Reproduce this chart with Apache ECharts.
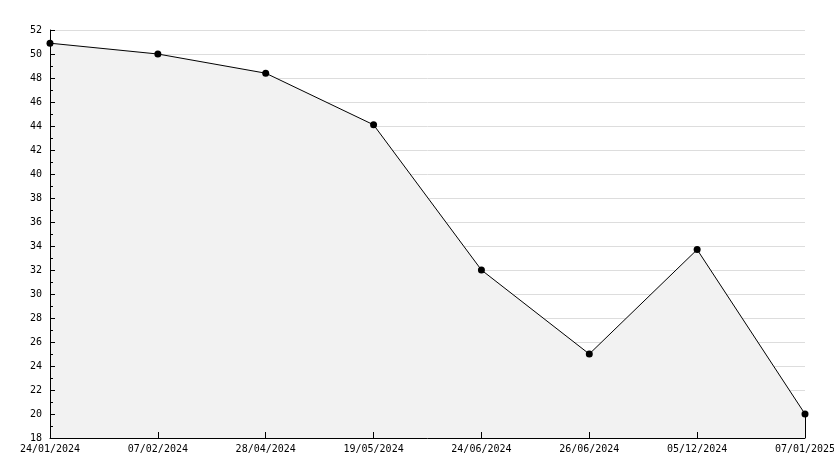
<!DOCTYPE html>
<html>
<head>
<meta charset="utf-8">
<script src="https://cdn.jsdelivr.net/npm/echarts@6/dist/echarts.min.js"></script>
<style>html,body{margin:0;padding:0;background:#fff;}#c{width:834px;height:468px;}</style>
</head>
<body>
<div id="c"></div>
<script>
const categories = ['24/01/2024','07/02/2024','28/04/2024','19/05/2024','24/06/2024','26/06/2024','05/12/2024','07/01/2025'];
const values = [50.9, 50.0, 48.4, 44.1, 32.0, 25.0, 33.7, 20.0];
const yMin = 18, yMax = 52, yStep = 2;

const chart = echarts.init(document.getElementById('c'), null, {renderer:'canvas'});
const font = 'DejaVu Sans Mono';
chart.setOption({
  animation: false,
  grid: {left: 50, right: 29, top: 30, bottom: 30, containLabel: false, outerBoundsMode: 'none'},
  xAxis: {
    type: 'category',
    data: categories,
    boundaryGap: false,
    zlevel: 2,
    axisLine: {show: true, lineStyle: {color: '#000', width: 1}},
    axisTick: {show: true, inside: true, length: 6, alignWithLabel: true, lineStyle: {color: '#000'}},
    axisLabel: {color: '#000', fontFamily: font, fontSize: 10, margin: 6, interval: 0, showMaxLabel: true, hideOverlap: false},
    splitLine: {show: false}
  },
  yAxis: [{
    type: 'value',
    min: yMin, max: yMax, interval: yStep,
    zlevel: 0,
    axisLine: {show: false},
    axisTick: {show: false},
    axisLabel: {show: false},
    splitLine: {show: true, lineStyle: {color: '#dddddd', width: 1}}
  }, {
    type: 'value',
    position: 'left',
    min: yMin, max: yMax, interval: yStep,
    zlevel: 2,
    axisLine: {show: true, lineStyle: {color: '#000', width: 1}},
    axisTick: {show: true, inside: true, length: 5, lineStyle: {color: '#000'}},
    minorTick: {show: true, splitNumber: 2, length: 3, lineStyle: {color: '#000'}},
    axisLabel: {color: '#000', fontFamily: font, fontSize: 10, margin: 8},
    splitLine: {show: false}
  }],
  series: [{
    type: 'line',
    yAxisIndex: 0,
    data: values,
    zlevel: 1,
    symbol: 'circle',
    symbolSize: 7,
    itemStyle: {color: '#000'},
    lineStyle: {color: '#000', width: 1},
    areaStyle: {color: '#f2f2f2', opacity: 1, origin: 'start'},
    markLine: {
      silent: true,
      symbol: ['none','none'],
      label: {show: false},
      lineStyle: {color: '#000', width: 1, type: 'solid'},
      data: [[{coord: [categories[categories.length-1], yMin]}, {coord: [categories[categories.length-1], values[values.length-1]]}]]
    }
  }]
});
</script>
</body>
</html>
